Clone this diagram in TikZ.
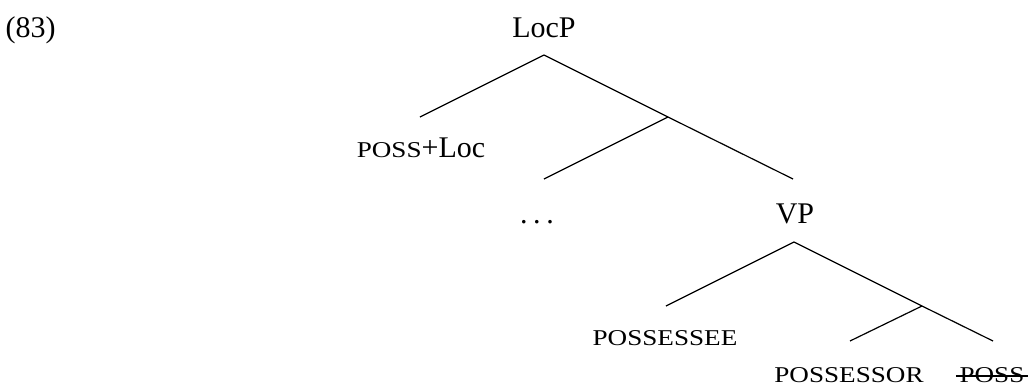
\documentclass[tikz,border=0pt]{standalone}
\usepackage{fontspec}
\setmainfont{Liberation Serif}
\newfontfamily\smcpfont[FakeStretch=1.2]{Liberation Serif}
\usepackage{tikz}
\usetikzlibrary{positioning,calc}
\tikzstyle{every node} += [font=\fontsize{15}{18}\selectfont, inner sep=0pt]
\tikzstyle{lbl} = [anchor=base]
\newcommand{\Sc}[1]{{\smcpfont\fontsize{11.3}{13}\selectfont #1}}
\newcommand{\Dots}{.\kern2.8pt.\kern2.8pt.}

\begin{document}
\begin{tikzpicture}[x=0.5pt,y=-0.5pt,line width=0.6pt]
\useasboundingbox (0,0) rectangle (1030,387);

\node[anchor=base west] (ex) at (5,37) {(83)};

% labels
\node[lbl] (locp) at (544,37) {LocP};
\node[lbl] (possloc) at (421,157) {\Sc{POSS}+Loc};
\node[lbl] (dots) at (537,223) {\Dots};
\node[lbl] (vp) at (795,223) {VP};
\node[lbl] (possessee) at (665,345) {\Sc{POSSESSEE}};
\node[lbl] (possessor) at (849,382) {\Sc{POSSESSOR}};
\node[lbl] (poss) at (992,382) {\Sc{POSS}};

% struck out
\draw[line width=0.75pt] ($(poss.base west)+(-3,-6)$) -- ($(poss.base east)+(3,-6)$);

% branch points
\coordinate (locp-t) at (544,55);
\coordinate (possloc-b) at (420,117);
\coordinate (locbar) at (668,117);
\coordinate (dots-b) at (544,179);
\coordinate (vp-b) at (793,179);

\coordinate (vp-t) at (794,242);
\coordinate (possessee-b) at (666,306);
\coordinate (vbar) at (922,306);
\coordinate (possessor-b) at (850,341);
\coordinate (poss-b) at (993,341);

\draw (locp-t) -- (possloc-b);
\draw (locp-t) -- (locbar) -- (vp-b);
\draw (locbar) -- (dots-b);

\draw (vp-t) -- (possessee-b);
\draw (vp-t) -- (vbar) -- (poss-b);
\draw (vbar) -- (possessor-b);

\end{tikzpicture}
\end{document}
